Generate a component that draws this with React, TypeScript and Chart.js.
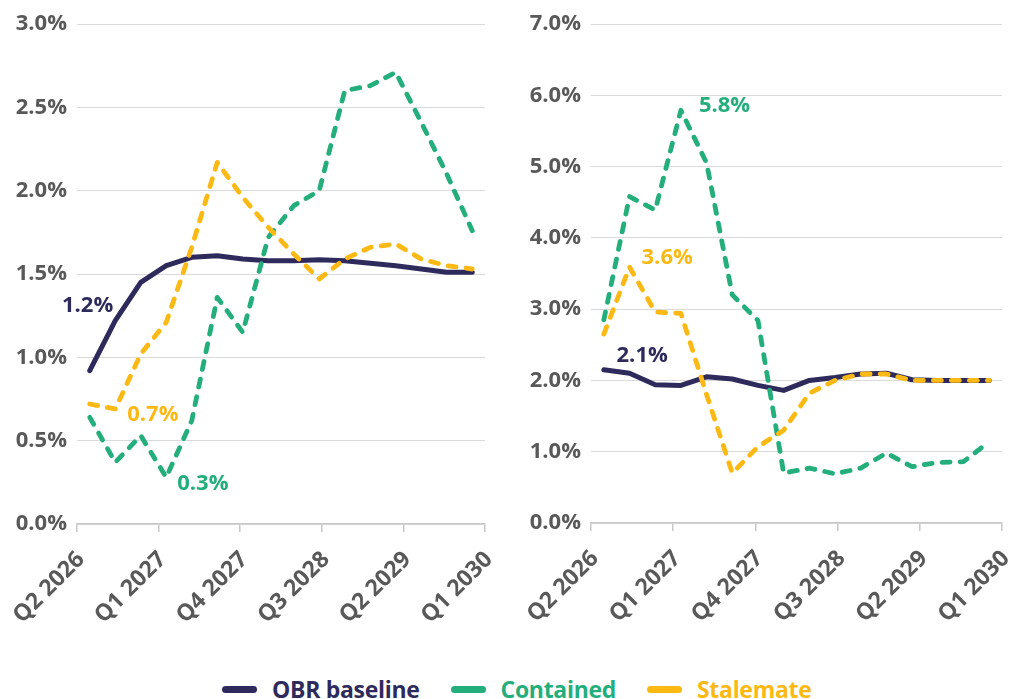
import React, { useEffect, useRef } from "react";
import { Chart, registerables } from "chart.js";

Chart.register(...registerables);

// ---------- data ----------
const quarters = [
  "Q2 2026", "Q3 2026", "Q4 2026", "Q1 2027", "Q2 2027", "Q3 2027", "Q4 2027", "Q1 2028",
  "Q2 2028", "Q3 2028", "Q4 2028", "Q1 2029", "Q2 2029", "Q3 2029", "Q4 2029", "Q1 2030",
];
const tickLabels = ["Q2 2026", "Q1 2027", "Q4 2027", "Q3 2028", "Q2 2029", "Q1 2030"];

const leftBaseline = [0.92, 1.22, 1.45, 1.55, 1.6, 1.61, 1.59, 1.58, 1.58, 1.585, 1.58, 1.565, 1.55, 1.53, 1.51, 1.51];
const leftContained = [0.64, 0.37, 0.53, 0.28, 0.62, 1.36, 1.15, 1.72, 1.91, 2.0, 2.6, 2.63, 2.71, 2.41, 2.1, 1.76];
const leftStalemate = [0.72, 0.69, 1.02, 1.21, 1.66, 2.17, 1.96, 1.78, 1.62, 1.47, 1.59, 1.66, 1.68, 1.59, 1.55, 1.53];

const rightBaseline = [2.15, 2.1, 1.94, 1.93, 2.05, 2.02, 1.93, 1.86, 2.0, 2.04, 2.09, 2.1, 2.01, 2.0, 2.0, 2.0];
const rightContained = [2.85, 4.58, 4.39, 5.79, 5.05, 3.2, 2.84, 0.7, 0.77, 0.69, 0.77, 0.98, 0.79, 0.85, 0.86, 1.14];
const rightStalemate = [2.65, 3.59, 2.96, 2.94, 1.8, 0.7, 1.07, 1.3, 1.82, 2.0, 2.09, 2.09, 2.0, 2.0, 2.0, 2.0];

const seriesNames = ["OBR baseline", "Contained", "Stalemate"];

// ---------- styles ----------
const NAVY = "#2E2B5C";
const GREEN = "#23AE7C";
const AMBER = "#FDB913";
const TICK = "#595959";
const FONT = "'Open Sans', 'Noto Sans', sans-serif";

type Note = { series: number; index: number; dx: number; dy: number; align: CanvasTextAlign };

const leftNotes: Note[] = [
  { series: 0, index: 1, dx: -2, dy: -15, align: "right" },
  { series: 2, index: 1, dx: 12, dy: 6, align: "left" },
  { series: 1, index: 3, dx: 11, dy: 6, align: "left" },
];
const rightNotes: Note[] = [
  { series: 1, index: 3, dx: 18, dy: -5, align: "left" },
  { series: 2, index: 1, dx: 12, dy: -9, align: "left" },
  { series: 0, index: 1, dx: -13, dy: -18, align: "left" },
];

const colors = [NAVY, GREEN, AMBER];

type PanelProps = {
  left: number;
  width: number;
  height: number;
  yMax: number;
  yStep: number;
  yAxisWidth: number;
  padRight: number;
  chartBottom: number;
  series: number[][];
  notes: Note[];
};

function Panel(p: PanelProps) {
  const ref = useRef<HTMLCanvasElement | null>(null);
  useEffect(() => {
    if (!ref.current) return;
    const n = quarters.length;
    const tickPos = tickLabels.map((_, i) => -0.5 + (i * n) / (tickLabels.length - 1));
    const mk = (s: number) => ({
      label: seriesNames[s],
      data: p.series[s].map((v, i) => ({ x: i, y: v })),
      borderColor: colors[s],
      backgroundColor: colors[s],
      borderWidth: s === 0 ? 5 : 4.8,
      borderDash: s === 0 ? [] : [8, 10],
      borderCapStyle: "round" as const,
      borderJoinStyle: "round" as const,
      pointRadius: 0,
      tension: 0,
      fill: false,
    });
    const notesPlugin = {
      id: "notes",
      afterDatasetsDraw(chart: any) {
        const ctx = chart.ctx;
        const xs = chart.scales.x;
        const ys = chart.scales.y;
        ctx.save();
        ctx.font = `bold 22px ${FONT}`;
        ctx.textBaseline = "middle";
        for (const nt of p.notes) {
          const v = p.series[nt.series][nt.index];
          const x = xs.getPixelForValue(nt.index) + nt.dx;
          const y = ys.getPixelForValue(v) + nt.dy;
          ctx.fillStyle = colors[nt.series];
          ctx.textAlign = nt.align;
          ctx.fillText(v.toFixed(1) + "%", x, y);
        }
        ctx.restore();
      },
    };
    const chart = new Chart(ref.current, {
      type: "line",
      data: { datasets: [mk(2), mk(1), mk(0)] },
      options: {
        animation: false,
        responsive: false,
        maintainAspectRatio: false,
        layout: { padding: { top: 24, right: p.padRight, left: 0, bottom: 0 } },
        plugins: { legend: { display: false }, tooltip: { enabled: false } },
        scales: {
          x: {
            type: "linear",
            min: -0.5,
            max: n - 0.5,
            afterBuildTicks: (scale: any) => {
              scale.ticks = tickPos.map((v) => ({ value: v }));
            },
            afterFit: (scale: any) => {
              scale.height = p.height - p.chartBottom;
              scale.paddingLeft = 0;
              scale.paddingRight = 0;
            },
            ticks: {
              autoSkip: false,
              minRotation: 45,
              maxRotation: 45,
              padding: 14,
              labelOffset: 4,
              color: TICK,
              font: { family: FONT, size: 23, weight: "bold" },
              callback: (_v: any, i: number) => tickLabels[i],
            },
            grid: {
              display: true,
              drawOnChartArea: false,
              drawTicks: true,
              tickLength: 8,
              color: "#C8C8C8",
              lineWidth: 1.5,
            },
            border: { display: true, color: "#C8C8C8", width: 1.5 },
          },
          y: {
            min: 0,
            max: p.yMax,
            afterFit: (scale: any) => {
              scale.width = p.yAxisWidth;
            },
            ticks: {
              stepSize: p.yStep,
              padding: 10,
              color: TICK,
              font: { family: FONT, size: 22, weight: "bold" },
              callback: (v: any) => Number(v).toFixed(1) + "%",
            },
            grid: { color: "#DADADA", lineWidth: 1, drawTicks: false },
            border: { display: false },
          },
        },
      },
      plugins: [notesPlugin],
    } as any);
    return () => chart.destroy();
  }, []);
  return (
    <canvas
      ref={ref}
      width={p.width}
      height={p.height}
      style={{ position: "absolute", left: p.left, top: 0, width: p.width, height: p.height }}
    />
  );
}

function LegendItem({ color, label }: { color: string; label: string }) {
  return (
    <div style={{ display: "flex", alignItems: "center", marginRight: 31 }}>
      <span
        style={{
          display: "inline-block",
          width: 35,
          height: 7,
          borderRadius: 4,
          background: color,
          marginRight: 15,
        }}
      />
      <span
        style={{
          color,
          fontFamily: FONT,
          fontWeight: 700,
          fontSize: 23,
          letterSpacing: "-0.3px",
          lineHeight: "30px",
          whiteSpace: "nowrap",
        }}
      >
        {label}
      </span>
    </div>
  );
}

export default function App() {
  useEffect(() => {
    document.body.style.margin = "0";
  }, []);
  return (
    <div style={{ position: "relative", width: 1011, height: 699, background: "#fff", overflow: "hidden" }}>
      <Panel
        left={0}
        width={500}
        height={660}
        yMax={3}
        yStep={0.5}
        yAxisWidth={77}
        padRight={15}
        chartBottom={524}
        series={[leftBaseline, leftContained, leftStalemate]}
        notes={leftNotes}
      />
      <Panel
        left={500}
        width={511}
        height={660}
        yMax={7}
        yStep={1}
        yAxisWidth={91}
        padRight={9}
        chartBottom={523}
        series={[rightBaseline, rightContained, rightStalemate]}
        notes={rightNotes}
      />
      <div
        style={{
          position: "absolute",
          left: 222,
          top: 674,
          height: 30,
          display: "flex",
          alignItems: "center",
        }}
      >
        <LegendItem color={NAVY} label={seriesNames[0]} />
        <LegendItem color={GREEN} label={seriesNames[1]} />
        <LegendItem color={AMBER} label={seriesNames[2]} />
      </div>
    </div>
  );
}
